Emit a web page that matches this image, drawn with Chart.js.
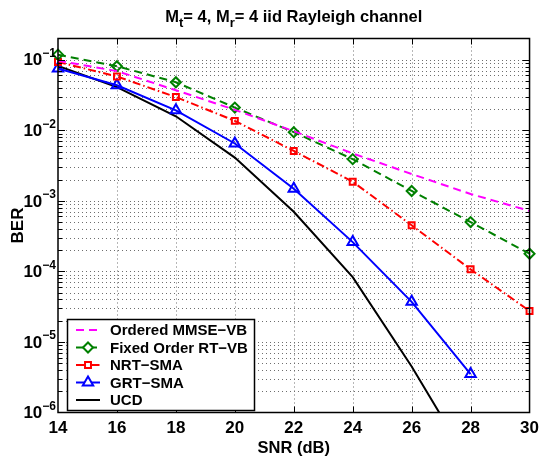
<!DOCTYPE html>
<html>
<head>
<meta charset="utf-8">
<script src="https://cdn.jsdelivr.net/npm/chart.js@4.4.0/dist/chart.umd.min.js"></script>
<style>
  html, body { margin: 0; padding: 0; background: #fff; }
  canvas { display: block; }
</style>
</head>
<body>
<canvas id="ber" width="545" height="459"></canvas>
<script>
// SNR in dB and BER per detector
const snr = [14, 16, 18, 20, 22, 24, 26, 28, 30];
const mmseVb    = [0.097, 0.069, 0.037, 0.0195, 0.0097, 0.0047, 0.0024, 0.00125, 0.00072];
const fixedRtVb = [0.118, 0.081, 0.048, 0.021, 0.0094, 0.0039, 0.00138, 0.0005, 0.000178];
const nrtSma    = [0.093, 0.058, 0.0296, 0.0136, 0.0051, 0.00187, 0.00045, 0.000107, 0.0000275];
const grtSma    = [0.075, 0.0435, 0.0192, 0.0065, 0.00148, 0.00026, 0.000037, 0.0000035];
const ucd       = [0.082, 0.041, 0.0158, 0.0041, 0.0007, 0.000083, 0.0000045, 0.00000018];
const decades   = [-6, -5, -4, -3, -2, -1];

const FONT = '"Liberation Sans", Arial, Helvetica, sans-serif';
const pts = arr => arr.map((v, i) => ({ x: snr[i], y: v }));

// dotted grid, inward ticks, box, y labels, title and legend
const frame = {
  id: 'frame',
  beforeDatasetsDraw(chart) {
    const { ctx, chartArea: a, scales: { x, y } } = chart;
    ctx.save();
    ctx.strokeStyle = '#6e6e6e';
    ctx.lineWidth = 1;
    ctx.setLineDash([1, 3]);
    ctx.beginPath();
    for (let v = 16; v < 30; v += 2) {
      const px = Math.round(x.getPixelForValue(v)) + 0.5;
      ctx.moveTo(px, a.top); ctx.lineTo(px, a.bottom);
    }
    decades.forEach(k => {
      for (let m = 1; m <= 9; m++) {
        const v = m * Math.pow(10, k);
        if (v <= 1e-6 || v >= 0.2) continue;
        const py = Math.round(y.getPixelForValue(v)) + 0.5;
        ctx.moveTo(a.left, py); ctx.lineTo(a.right, py);
      }
    });
    ctx.stroke();
    ctx.restore();
  },
  afterDraw(chart) {
    const { ctx, chartArea: a, scales: { x, y } } = chart;
    ctx.save();
    ctx.strokeStyle = '#000';
    ctx.setLineDash([]);
    ctx.lineWidth = 1;
    ctx.beginPath();
    for (let v = 16; v < 30; v += 2) {
      const px = Math.round(x.getPixelForValue(v)) + 0.5;
      ctx.moveTo(px, a.bottom); ctx.lineTo(px, a.bottom - 6);
      ctx.moveTo(px, a.top); ctx.lineTo(px, a.top + 6);
    }
    decades.forEach(k => {
      for (let m = 1; m <= 9; m++) {
        const v = m * Math.pow(10, k);
        if (v <= 1e-6 || v >= 0.2) continue;
        const len = m === 1 ? 7 : 4;
        const py = Math.round(y.getPixelForValue(v)) + 0.5;
        ctx.moveTo(a.left, py); ctx.lineTo(a.left + len, py);
        ctx.moveTo(a.right, py); ctx.lineTo(a.right - len, py);
      }
    });
    ctx.stroke();
    ctx.lineWidth = 1.5;
    ctx.strokeRect(a.left, a.top, a.right - a.left, a.bottom - a.top);

    // y tick labels 10^k
    ctx.fillStyle = '#000';
    ctx.textBaseline = 'middle';
    decades.forEach(k => {
      const py = y.getPixelForValue(Math.pow(10, k));
      const sup = '\u2212' + (-k);
      ctx.font = 'bold 12px ' + FONT;
      const sw = ctx.measureText(sup).width;
      ctx.textAlign = 'left';
      ctx.fillText(sup, 56 - sw, py - 6);
      ctx.font = 'bold 17px ' + FONT;
      ctx.textAlign = 'right';
      ctx.fillText('10', 56 - sw, py + 1);
    });

    // y axis title
    ctx.save();
    ctx.translate(18, (a.top + a.bottom) / 2);
    ctx.rotate(-Math.PI / 2);
    ctx.textAlign = 'center';
    ctx.font = 'bold 17px ' + FONT;
    ctx.fillText('BER', 0, 0);
    ctx.restore();

    // title with subscripts
    const parts = [
      ['M', 0], ['t', 1], ['= 4, M', 0], ['r', 1], ['= 4 iid Rayleigh channel', 0]
    ];
    const big = 'bold 16.5px ' + FONT, small = 'bold 13px ' + FONT;
    let total = 0;
    parts.forEach(([s, sub]) => { ctx.font = sub ? small : big; total += ctx.measureText(s).width; });
    let tx = (a.left + a.right) / 2 - total / 2;
    ctx.textAlign = 'left';
    ctx.textBaseline = 'alphabetic';
    parts.forEach(([s, sub]) => {
      ctx.font = sub ? small : big;
      ctx.fillText(s, tx, sub ? 27 : 22);
      tx += ctx.measureText(s).width;
    });

    // legend
    const lx = 67.5, ly = 319.5, lw = 187, lh = 91;
    ctx.fillStyle = '#fff';
    ctx.fillRect(lx, ly, lw, lh);
    ctx.lineWidth = 1.5;
    ctx.strokeStyle = '#000';
    ctx.strokeRect(lx, ly, lw, lh);
    chart.data.datasets.forEach((ds, i) => {
      const ry = 330 + i * 17.5;
      ctx.save();
      ctx.strokeStyle = ds.borderColor;
      ctx.lineWidth = ds.borderWidth;
      ctx.setLineDash(ds.borderDash || []);
      ctx.beginPath();
      ctx.moveTo(76, ry); ctx.lineTo(100, ry);
      ctx.stroke();
      if (ds.pointRadius > 0) {
        ctx.setLineDash([]);
        ctx.fillStyle = '#fff';
        ctx.lineWidth = ds.pointBorderWidth;
        Chart.helpers.drawPoint(ctx, {
          pointStyle: ds.pointStyle, radius: ds.pointRadius,
          borderWidth: ds.pointBorderWidth, rotation: 0
        }, 88, ry);
      }
      ctx.restore();
      ctx.fillStyle = '#000';
      ctx.font = 'bold 15px ' + FONT;
      ctx.textBaseline = 'middle';
      ctx.fillText(ds.label, 110, ry + 1);
    });
    ctx.restore();
  }
};

new Chart(document.getElementById('ber'), {
  type: 'line',
  data: {
    datasets: [
      {
        label: 'Ordered MMSE\u2212VB', data: pts(mmseVb),
        borderColor: '#ff00ff', borderWidth: 2, borderDash: [8, 5],
        pointRadius: 0, clip: 8
      },
      {
        label: 'Fixed Order RT\u2212VB', data: pts(fixedRtVb),
        borderColor: '#008000', borderWidth: 2, borderDash: [8, 5],
        pointStyle: 'rectRot', pointRadius: 5, pointBorderWidth: 2,
        pointBorderColor: '#008000', pointBackgroundColor: 'rgba(0,0,0,0)', clip: 8
      },
      {
        label: 'NRT\u2212SMA', data: pts(nrtSma),
        borderColor: '#ff0000', borderWidth: 2, borderDash: [8, 3, 1.5, 3],
        pointStyle: 'rect', pointRadius: 4.2, pointBorderWidth: 2,
        pointBorderColor: '#ff0000', pointBackgroundColor: 'rgba(0,0,0,0)', clip: 8
      },
      {
        label: 'GRT\u2212SMA', data: pts(grtSma),
        borderColor: '#0000ff', borderWidth: 2,
        pointStyle: 'triangle', pointRadius: 6, pointBorderWidth: 2,
        pointBorderColor: '#0000ff', pointBackgroundColor: 'rgba(0,0,0,0)', clip: 8
      },
      {
        label: 'UCD', data: pts(ucd),
        borderColor: '#000000', borderWidth: 2, pointRadius: 0
      }
    ]
  },
  options: {
    responsive: false,
    animation: false,
    devicePixelRatio: 1,
    events: [],
    layout: { padding: { top: 38.5, right: 8, left: 0, bottom: 0 } },
    plugins: { legend: { display: false }, tooltip: { enabled: false }, title: { display: false } },
    scales: {
      x: {
        type: 'linear', min: 14, max: 30,
        ticks: { stepSize: 2, color: '#000', padding: 6, maxRotation: 0,
                 font: { family: FONT, size: 17, weight: 'bold' } },
        grid: { display: false, drawTicks: false },
        border: { display: false },
        title: { display: true, text: 'SNR (dB)', color: '#000', padding: { top: 0, bottom: 1 },
                 font: { family: FONT, size: 16.5, weight: 'bold' } },
        afterFit: s => { s.height = 46.5; }
      },
      y: {
        type: 'logarithmic', min: 1e-6, max: 0.2,
        ticks: { display: false },
        grid: { display: false, drawTicks: false },
        border: { display: false },
        afterFit: s => { s.width = 58; }
      }
    }
  },
  plugins: [frame]
});
</script>
</body>
</html>
